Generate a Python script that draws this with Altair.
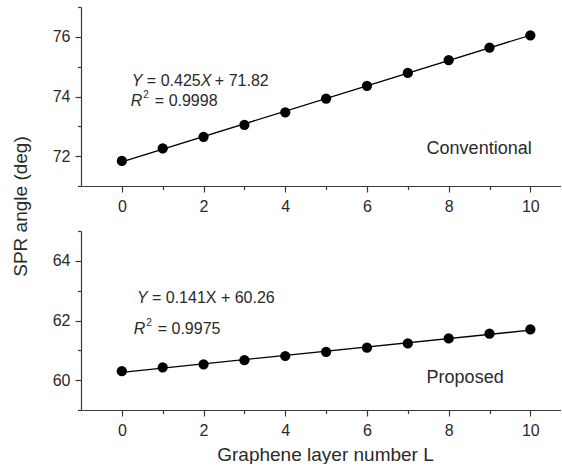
import altair as alt
import pandas as pd

# ---------------- data ----------------
layers = [0, 1, 2, 3, 4, 5, 6, 7, 8, 9, 10]
conventional = [71.84, 72.26, 72.65, 73.05, 73.47, 73.93, 74.36, 74.79, 75.22, 75.64, 76.05]
proposed = [60.30, 60.43, 60.53, 60.67, 60.81, 60.95, 61.09, 61.23, 61.40, 61.56, 61.70]

x_major = [0, 2, 4, 6, 8, 10]
x_minor = [1, 3, 5, 7, 9]
top_y_major = [72, 74, 76]
top_y_minor = [71, 73, 75, 77]
bot_y_major = [60, 62, 64]
bot_y_minor = [59, 61, 63, 65]

top_eq = ["Y", "= 0.425", "X", "+ 71.82"]
top_r2 = ["R", "2", "= 0.9998"]
bot_eq = ["Y", "= 0.141X + 60.26"]
bot_r2 = ["R", "2", "= 0.9975"]
top_name = "Conventional"
bot_name = "Proposed"
x_title = "Graphene layer number L"
y_title = "SPR angle (deg)"

FONT = "Liberation Sans"
AX = "#3a3a3a"
TXT = "#2a2a2a"

df_top = pd.DataFrame({"L": layers, "A": conventional})
df_bot = pd.DataFrame({"L": layers, "A": proposed})


def minor_axis(values, orient):
    return alt.Axis(values=values, orient=orient, labels=False, tickSize=3.5, grid=False, title=None,
                    domain=True, domainColor=AX, tickColor=AX, domainWidth=1.2, tickWidth=1.2)


def major_axis(values, orient, pad, title=None, **tkw):
    kw = dict(values=values, orient=orient, tickSize=6, grid=False, domain=False,
              labelFont=FONT, labelFontSize=16, labelColor=TXT, labelPadding=pad,
              labelOverlap=False, tickColor=AX, tickWidth=1.2)
    if title is None:
        kw["title"] = None
    else:
        kw.update(title=title, titleFont=FONT, titleFontSize=19, titleFontWeight="normal",
                  titleColor=TXT, **tkw)
    return alt.Axis(**kw)


def panel(df, domain, ymaj, ymin, xtitle, ytitle, ann):
    xsc = alt.Scale(domain=[-1, 10.75], nice=False, zero=False)
    ysc = alt.Scale(domain=domain, nice=False, zero=False)
    base = alt.Chart(df)
    line = base.transform_regression("L", "A", extent=[0, 10]).mark_line(
        color="black", strokeWidth=1.3).encode(
        x=alt.X("L:Q", scale=xsc, axis=minor_axis(x_minor, "bottom")),
        y=alt.Y("A:Q", scale=ysc, axis=minor_axis(ymin, "left")))
    xkw = dict(titlePadding=7, titleX=244, titleAlign="center")
    ykw = dict(titleAngle=270, titleAlign="center", titleBaseline="middle", titleX=-61, titleY=199)
    pts = base.mark_circle(size=105, color="black", opacity=1).encode(
        x=alt.X("L:Q", scale=xsc, axis=major_axis(x_major, "bottom", 6, xtitle, **(xkw if xtitle else {}))),
        y=alt.Y("A:Q", scale=ysc, axis=major_axis(ymaj, "left", 5, ytitle, **(ykw if ytitle else {}))))

    texts = []
    for (x, y, txt, dx, dy, size, italic) in ann:
        d = pd.DataFrame({"L": [x], "A": [y], "t": [txt]})
        texts.append(alt.Chart(d).mark_text(
            align="left", baseline="middle", font=FONT, fontSize=size,
            fontStyle="italic" if italic else "normal", color=TXT, dx=dx, dy=dy,
        ).encode(x=alt.X("L:Q", scale=xsc, axis=None), y=alt.Y("A:Q", scale=ysc, axis=None), text="t:N"))

    return alt.layer(line, pts, *texts).resolve_axis(x="independent", y="independent").properties(
        width=480, height=179)


top_ann = [
    (0.245, 74.52, top_eq[0], 0, 0, 16, True),
    (0.245, 74.52, top_eq[1], 15, 0, 16, False),
    (0.245, 74.52, top_eq[2], 69, 0, 16, True),
    (0.245, 74.52, top_eq[3], 83, 0, 16, False),
    (0.22, 73.85, top_r2[0], 0, 0, 16, True),
    (0.22, 73.85, top_r2[1], 12.5, -6, 10, False),
    (0.22, 73.85, top_r2[2], 24, 0, 16, False),
    (7.46, 72.24, top_name, 0, 0, 18, False),
]
bot_ann = [
    (0.37, 62.76, bot_eq[0], 0, 0, 16, True),
    (0.37, 62.76, bot_eq[1], 15, 0, 16, False),
    (0.29, 61.71, bot_r2[0], 0, 0, 16, True),
    (0.29, 61.71, bot_r2[1], 12.5, -6, 10, False),
    (0.29, 61.71, bot_r2[2], 24, 0, 16, False),
    (7.46, 60.08, bot_name, 0, 0, 18, False),
]

top = panel(df_top, [71, 77], top_y_major, top_y_minor, None, y_title, top_ann)
bot = panel(df_bot, [59, 65], bot_y_major, bot_y_minor, x_title, None, bot_ann)

chart = alt.vconcat(top, bot, spacing=45, bounds="flush").properties(
    padding={"left": 11, "top": 6, "right": 0, "bottom": 0},
    background="white",
).configure_view(stroke=None).configure_concat(spacing=45)

chart.save("out.html", embed_options={"renderer": "svg", "actions": False})
